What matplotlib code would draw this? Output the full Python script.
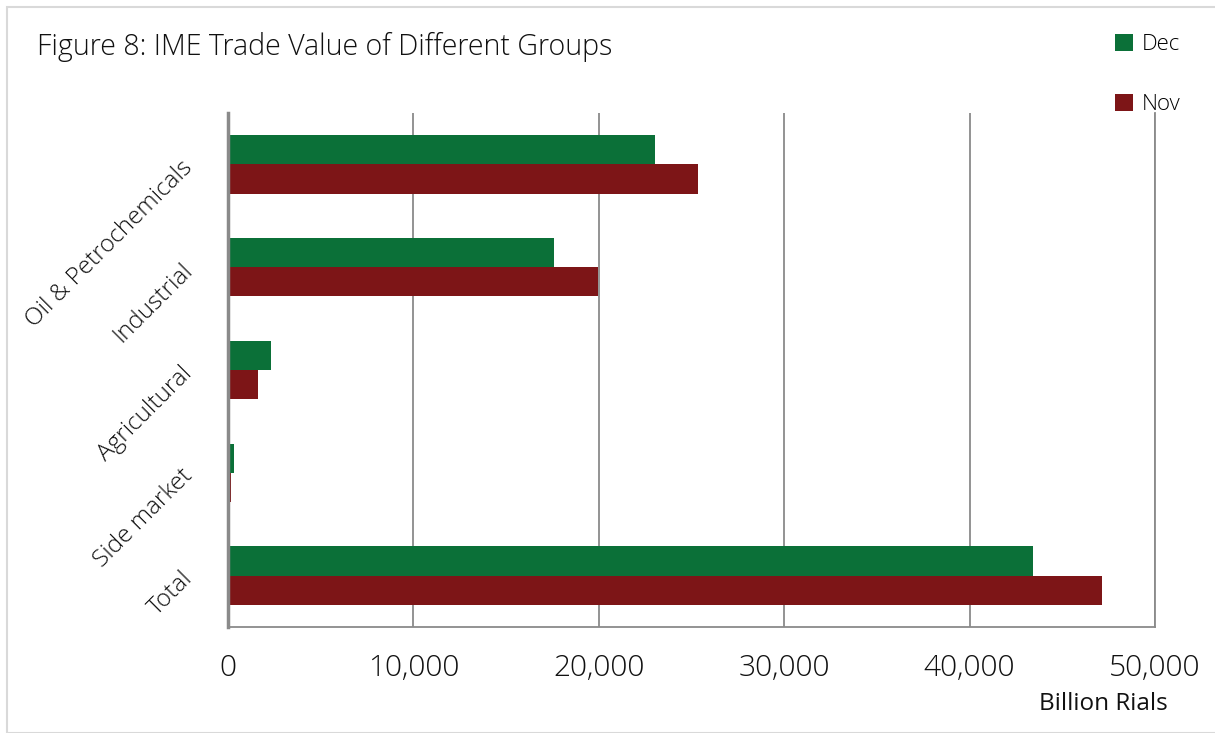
import matplotlib
matplotlib.use("Agg")
import matplotlib.pyplot as plt
import numpy as np
from matplotlib.patches import Rectangle

categories = ["Oil & Petrochemicals", "Industrial", "Agricultural", "Side market", "Total"]
dec_values = [23030, 17580, 2320, 320, 43420]
nov_values = [25350, 19960, 1620, 160, 47140]
xticks = [0, 10000, 20000, 30000, 40000, 50000]
xtick_labels = ["0", "10,000", "20,000", "30,000", "40,000", "50,000"]

DEC_C = "#0b7038"
NOV_C = "#7d1517"
plt.rcParams['font.family'] = ['Open Sans', 'DejaVu Sans']
W = 'light'

fig = plt.figure(figsize=(12.15, 7.33), dpi=100)
ax = fig.add_axes([228/1215, 1-627/733, (1155-228)/1215, (627-113)/733])

n = len(categories)
y = np.arange(n)
h = 0.285
ax.barh(y - h/2, dec_values, height=h, color=DEC_C, label="Dec", zorder=3)
ax.barh(y + h/2, nov_values, height=h, color=NOV_C, label="Nov", zorder=3)

ax.set_ylim(n - 0.5, -0.5)
ax.set_xlim(0, 50000)
ax.set_xticks(xticks)
ax.set_xticklabels(xtick_labels, fontsize=21.5, color="#111111", fontweight=W)
ax.set_yticks(y)
ax.set_yticklabels(categories, fontsize=17.5, rotation=45, ha='right', va='center',
                   rotation_mode='anchor', color="#111111", fontweight=W)
ax.tick_params(axis='both', length=0)
ax.tick_params(axis='x', pad=19)
ax.tick_params(axis='y', pad=28)
ax.grid(axis='x', color="#8a8a8a", linewidth=1.3, zorder=0)
for s in ['right', 'bottom']:
    ax.spines[s].set_color("#8a8a8a")
    ax.spines[s].set_linewidth(1.3)
ax.spines['left'].set_color("#8a8a8a")
ax.spines['left'].set_linewidth(2.5)
ax.spines['left'].set_zorder(4)
ax.spines['top'].set_visible(False)

fig.text(37/1215, 1-47/733, "Figure 8: IME Trade Value of Different Groups", fontsize=20.6,
         ha='left', va='center', color="#111111", fontweight=W)
fig.text(1168/1215, 1-704/733, "Billion Rials", fontsize=17.5, ha='right', va='center',
         color="#111111")

leg = fig.legend(handles=[ax.patches[0], ax.patches[n]], labels=["Dec", "Nov"],
                 loc='upper left', bbox_to_anchor=(1095/1215, 1-14/733), frameon=False,
                 handlelength=0.8, handleheight=0.8, handletextpad=0.4,
                 labelspacing=1.75, prop={'size': 16, 'weight': W})

fig.patches.append(Rectangle((7/1215, 0), 1, 1-7/733, transform=fig.transFigure,
                             fill=False, edgecolor="#d9d9d9", linewidth=1.5))
fig.savefig("out.png", dpi=100)
